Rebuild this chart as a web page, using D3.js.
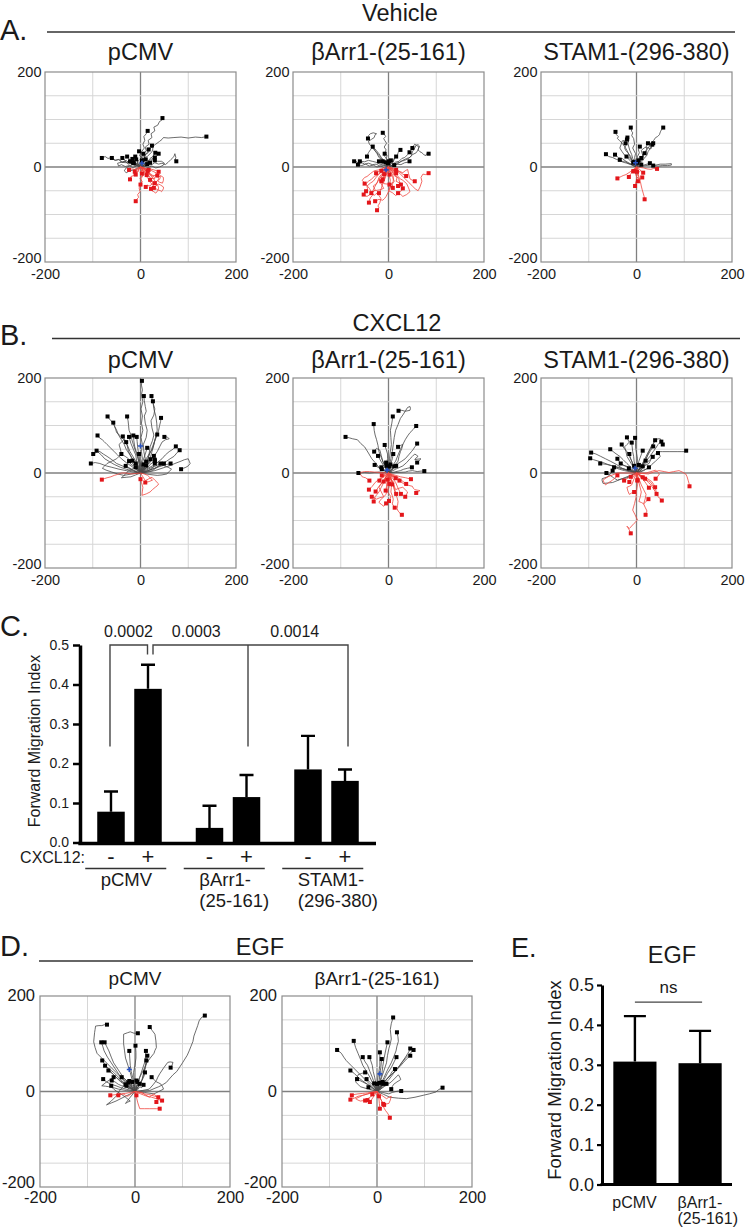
<!DOCTYPE html>
<html><head><meta charset="utf-8">
<script src="https://cdn.jsdelivr.net/npm/d3@7"></script>
<style>
body{margin:0;background:#fff;}
text{font-family:"Liberation Sans",Arial,Helvetica,sans-serif;fill:#1a1a1a;}
</style>
</head><body>
<script>
// ---------------- DATA ----------------
const axisTicks = [-200, 0, 200];
const gridX = [-100, 0, 100];
const gridY = [-150, -100, -50, 0, 50, 100, 150];

// Trajectories (x,y in µm), each string is one cell track
const tracksA1 = [
"0,0 5,6 3,14 8,20 5,27 12,34 10,42 18,48 16,56 24,62 22,70 30,76 28,84 36,88 40,96 44,98 46,103",
"0,0 6,8 10,16 8,24 16,30 20,38 26,44 32,48 40,54 45,58 48,62 58,61 70,62 85,63 100,61 115,63 128,62 138,64",
"0,0 2,8 -1,16 4,24 2,32 8,40 5,48 9,56 7,64 12,70 15,76",
"0,0 -6,4 -12,2 -18,8 -26,6 -32,12 -40,10 -46,16 -54,14 -60,20 -68,18 -74,22 -81,19",
"0,0 -5,6 -10,4 -16,10 -24,8 -30,14 -38,10 -44,16 -52,14 -60,19",
"0,0 -6,3 -10,8 -16,6 -22,12 -30,10 -34,16 -38,19",
"0,0 -4,6 -10,8 -14,14 -20,12 -24,18 -28,22",
"0,0 8,2 15,6 22,4 30,9 38,6 45,8 52,5 58,10 64,16 70,22 72,28 74,20 72,14 75,12",
"0,0 -4,4 -8,2 -12,10 -17,17",
"0,0 3,6 0,12 4,18 -2,24 1,30 -3,33",
"0,0 4,6 2,12 8,18 10,26 14,30 17,37",
"0,0 6,4 10,10 16,12 20,18 26,22 31,30",
"0,0 8,4 14,10 20,10 26,16 32,20 36,26 38,28",
"0,0 -3,5 -7,8 -5,14 -11,22",
"0,0 3,4 1,10 5,16 3,22 6,28",
"0,0 6,2 10,8 16,10 22,16 26,18 30,20",
"0,0 -6,-3 -14,-6 -22,-8 -30,-12 -34,-8 -30,-2 -24,2 -18,4 -14,8",
"0,0 8,2 16,-1 24,2 32,-2 40,0 48,4 50,8 44,12 36,12 30,14",
"0,0 -8,2 -16,-1 -24,3 -32,1 -40,5 -46,2 -48,8 -40,10 -30,9 -22,12",
"0,0 4,8 2,14 8,20 14,22 20,28 24,32 26,38 24,45",
"0,0 4,3 2,8 7,10 5,15 11,16",
"0,0 -3,4 -1,9 -7,8 -5,14 -9,16",
"0,0 5,-2 9,2 13,5 18,4 20,9",
"0,0 -5,2 -8,6 -13,4 -16,9",
"0,0 2,5 7,3 10,8 14,6",
"0,0 -2,4 2,7 -1,11 3,14",
"0,0 3,-6 0,-12 4,-18 -1,-24 3,-30 1,-38 -3,-44 -1,-52 -6,-58 -4,-64 -8,-68 -10,-72",
"0,0 -4,-4 -6,-10 -12,-12 -14,-18 -20,-20 -22,-26",
"0,0 4,-6 2,-12 5,-18 1,-25 3,-31 0,-37",
"0,0 6,-6 10,-12 16,-16 20,-22 24,-28 26,-34 22,-38 18,-40 14,-38 11,-42",
"0,0 8,-4 12,-10 18,-12 22,-18 28,-20 30,-25 24,-24 20,-27",
"0,0 8,-2 14,-6 20,-4 28,-6 34,-8 38,-10",
"0,0 4,-4 6,-10 10,-12 13,-17",
"0,0 10,-8 16,-14 22,-18 28,-26 32,-32 36,-38 38,-44 36,-50 32,-55 28,-52 24,-50 22,-46",
"0,0 12,-4 20,-6 28,-10 36,-14 42,-18 48,-22 48,-28 46,-34 40,-32 36,-30 38,-24 35,-18",
"0,0 -6,-2 -12,-5 -18,-4 -24,-6",
"0,0 5,-1 9,-4 13,-3 17,-6",
"0,0 6,-10 10,-18 16,-24 20,-32 26,-38 30,-44 36,-48 42,-50 44,-52 48,-46 48,-42 42,-38 38,-36 32,-40 28,-44",
"0,0 -3,-5 -5,-10 -8,-12 -10,-16",
"0,0 8,-4 14,-10 20,-14 26,-18 32,-18 38,-20 42,-20 40,-26 36,-28 30,-34",
"0,0 -2,-4 2,-7 -1,-11 3,-14",
"0,0 4,-3 8,-2 10,-7 15,-9",
"0,0 -4,-2 -6,-6 -10,-5 -12,-10"
];
const tracksA2 = [
"0,0 -3,6 -1,12 -5,18 -3,24 -8,30 -5,36 -9,42 -4,50 -8,56 -10,60 -6,64 -8,68 -12,72",
"0,0 -5,6 -10,12 -14,18 -20,24 -24,30 -30,36 -34,42 -40,48 -42,54 -36,58 -30,62 -28,68 -25,70 -32,72 -38,70 -42,66 -43,60",
"0,0 -6,6 -10,10 -14,16 -20,20 -24,28 -28,34 -33,43",
"0,0 -2,6 -6,10 -4,18 -8,22 -8,28",
"0,0 5,6 10,10 12,18 18,22 20,30 25,36",
"0,0 8,4 14,10 22,12 28,18 34,20 40,26 44,31",
"0,0 10,4 18,6 26,12 34,14 42,18 48,24 50,32 55,40 58,46 62,47 65,44 63,40 62,36 66,32 70,30 74,26 78,24 80,28 84,28",
"0,0 10,2 18,6 26,5 34,9 40,10 44,12",
"0,0 -10,3 -18,2 -26,6 -34,5 -42,8 -50,6 -56,9 -62,7 -66,11 -72,12",
"0,0 -8,-2 -16,2 -24,0 -32,4 -40,2 -48,6 -56,3 -64,5",
"0,0 -10,4 -18,6 -26,10 -34,12 -42,14 -50,11 -60,12",
"0,0 -5,2 -8,6 -14,8 -20,12",
"0,0 2,4 -2,6 -1,8",
"0,0 4,5 6,10 10,12 12,18 16,22",
"0,0 -3,4 -6,5 -8,10 -12,12",
"0,0 8,4 16,8 24,10 30,14 38,18 45,20 50,26 58,30 62,36 64,42 58,46 55,48 52,44 50,40",
"0,0 -6,8 -10,14 -15,20 -20,28 -25,34 -28,38 -35,40 -38,36 -42,30 -44,26 -45,22",
"0,0 4,3 2,8 7,10 5,14",
"0,0 -4,3 -2,8 -6,10",
"0,0 5,2 9,6 12,4",
"0,0 -2,5 3,8 1,12",
"0,0 6,-4 12,-8 20,-10 26,-16 35,-25 42,-32 50,-40 56,-46 62,-50 66,-42 70,-30 68,-22 72,-15 78,-16 84,-13",
"0,0 -6,-4 -10,-8 -15,-10 -22,-16 -30,-20 -36,-26 -42,-30 -46,-34 -50,-35",
"0,0 -4,-8 -10,-12 -14,-20 -20,-26 -25,-35 -30,-44 -35,-55 -34,-60 -38,-65 -40,-70 -41,-75",
"0,0 -2,-10 -5,-18 -8,-26 -12,-34 -15,-45 -18,-52 -20,-60 -16,-66 -18,-75 -22,-82 -20,-86 -24,-91",
"0,0 2,-8 5,-15 9,-22 12,-30 8,-36 9,-44",
"0,0 -8,-6 -14,-10 -20,-15 -26,-22 -32,-30 -38,-34 -45,-40 -44,-46 -47,-51",
"0,0 -3,-6 -8,-10 -10,-18 -15,-30",
"0,0 2,-8 5,-14 2,-20 4,-28 2,-37",
"0,0 6,-8 12,-14 16,-20 22,-24 22,-28 26,-37",
"0,0 4,-3 10,-8 12,-10 16,-13",
"0,0 -6,-2 -12,-6 -18,-8 -26,-13",
"0,0 -2,-6 -6,-10 -8,-18 -12,-26",
"0,0 8,-2 14,-6 20,-8 26,-12 30,-15 37,-19",
"0,0 -10,-2 -20,-6 -30,-8 -38,-14 -45,-20 -50,-22 -55,-28 -48,-36 -40,-45 -36,-52 -30,-60 -26,-56 -20,-55",
"0,0 5,-10 10,-20 10,-30 4,-40 0,-50 8,-54 15,-60 20,-56 25,-52 28,-48 30,-45",
"0,0 -4,-14 -10,-24 -10,-35 -2,-36 5,-40 2,-48 -5,-62 -8,-66 -12,-70 -20,-68 -28,-72",
"0,0 8,-8 16,-16 25,-25 30,-28 38,-35 42,-44 45,-52 38,-58 30,-62 26,-58 20,-55",
"0,0 -8,-10 -14,-18 -20,-25 -16,-34 -10,-45 -18,-48 -30,-50 -36,-56 -45,-62 -50,-60 -52,-58",
"0,0 10,-4 20,-8 30,-12 35,-8 40,-5 42,-14 45,-25 50,-28 55,-30",
"0,0 3,-4 -1,-8 4,-11 2,-16",
"0,0 -4,-3 -8,-2 -10,-7 -15,-8",
"0,0 5,-4 8,-2 11,-8 16,-6",
"0,0 -2,-5 -6,-8 -4,-13 -9,-15",
"0,0 8,-10 12,-18 18,-22 16,-30 24,-34 20,-40",
"0,0 -12,-12 -20,-22 -24,-34 -32,-40 -28,-48 -36,-55"
];
const tracksA3 = [
"0,0 -4,6 -10,15 -14,22 -20,35 -24,42 -30,50 -36,56 -40,60 -38,64 -42,68 -44,74",
"0,0 -2,8 -4,20 -2,28 -8,40 -4,48 -6,60 -10,66 -8,72 -10,75 -12,83",
"0,0 4,8 10,20 14,26 20,35 26,42 30,50 36,56 40,62 44,64 48,68 50,74 52,78 56,83",
"0,0 -3,8 -8,18 -10,26 -14,35 -16,42 -18,50 -16,56 -19,62",
"0,0 -5,8 -10,15 -12,22 -18,30 -22,34 -25,40 -22,46 -23,50",
"0,0 2,8 4,15 2,22 6,30 4,36 7,43",
"0,0 5,8 10,15 12,22 18,30 22,36 20,42 24,50",
"0,0 6,6 12,12 16,18 22,25 24,32 28,38 30,42 33,47",
"0,0 -10,4 -20,8 -28,10 -35,14 -42,16 -50,20 -58,22 -64,27",
"0,0 -8,4 -15,8 -22,12 -30,18 -38,20 -45,26",
"0,0 -6,2 -12,6 -18,8 -25,12 -30,12 -35,15",
"0,0 -4,4 -10,10 -14,14 -21,22",
"0,0 4,6 8,15 12,20 17,29",
"0,0 8,2 15,4 22,6 28,8",
"0,0 10,2 20,3 30,5 40,4 50,6 60,6 73,7 73,4 65,3 55,3 45,2 35,3",
"0,0 2,5 5,10 8,14 10,19",
"0,0 6,8 15,20 12,28 10,35 16,40 20,42 25,40 30,38 33,44 35,50",
"0,0 -6,8 -15,20 -20,22 -25,25 -30,32 -35,40 -32,48 -30,55 -25,56 -20,58",
"0,0 3,4 1,8 6,10 4,14",
"0,0 -3,3 -2,8 -7,9",
"0,0 4,2 6,6 10,5",
"0,0 -2,4 -6,6 -5,11",
"0,0 2,3 -2,5 1,9",
"0,0 -5,-4 -10,-8 -16,-12 -22,-16 -28,-18 -32,-20 -36,-22 -40,-24",
"0,0 -4,-4 -8,-10 -12,-14 -16,-21",
"0,0 -1,-6 -2,-15 1,-22 0,-28 -2,-34 -3,-40",
"0,0 2,-10 5,-20 8,-30 10,-40 12,-48 14,-55 16,-62 17,-68",
"0,0 1,-6 2,-12 4,-20 3,-30",
"0,0 8,-1 15,-2 22,-4 30,-5 36,-3 43,-4",
"0,0 4,-3 8,-6 10,-10 14,-12",
"0,0 -2,-3 -4,-5 -7,-9",
"0,0 3,-5 6,-10 2,-15 0,-20 4,-24 8,-26 12,-22",
"0,0 2,-4 -2,-6 1,-10",
"0,0 -3,-3 -1,-7 -5,-9"
];
const tracksB1 = [
"0,0 3,10 1,20 4,30 2,45 4,60 1,75 5,90 2,105 4,120 1,135 5,150 2,165 4,175 2,185 3,194",
"0,0 4,10 10,30 7,45 6,60 12,75 14,90 10,105 8,120 12,130 10,140 8,152 7,162",
"0,0 6,10 15,25 18,40 20,55 25,68 28,80 24,95 22,110 28,122 30,135 26,148 23,162",
"0,0 8,12 20,30 24,45 28,60 32,75 35,90 34,105 32,120 28,135 26,151",
"0,0 -4,10 -10,20 -18,32 -25,45 -28,58 -35,70 -42,78 -50,85 -52,92 -55,100 -58,106 -62,110 -66,115 -69,119",
"0,0 -6,12 -15,25 -22,38 -30,50 -34,60 -40,70 -46,80 -50,90 -54,98 -57,106",
"0,0 -2,15 -5,30 -10,45 -15,60 -18,70 -20,80 -24,90 -25,100 -26,110 -28,119",
"0,0 6,15 15,30 20,42 25,55 30,68 35,80 38,90 40,100 42,108 43,116",
"0,0 -10,8 -20,15 -30,22 -40,30 -48,38 -55,45 -62,52 -70,60 -76,66 -80,70 -86,74 -90,79",
"0,0 -4,12 -10,25 -16,35 -22,45 -26,55 -30,65 -34,72 -37,77",
"0,0 -4,12 -8,25 -10,38 -15,50 -20,62 -24,76",
"0,0 -2,15 -5,30 -8,42 -12,55 -14,68 -15,79",
"0,0 1,12 -2,25 -4,40 -6,55 -7,66 -8,76",
"0,0 5,15 12,30 18,40 25,50 28,60 30,70 32,76 35,81",
"0,0 10,12 20,25 28,35 35,45 40,55 45,65 52,70 60,72 56,76 50,76",
"0,0 -12,5 -25,10 -38,15 -50,20 -60,28 -70,35 -78,40 -85,45 -92,47",
"0,0 -15,4 -30,8 -42,12 -55,18 -65,24 -75,30 -82,38 -90,45 -95,42 -99,40",
"0,0 -15,2 -30,5 -45,8 -60,12 -72,15 -85,20 -95,22 -104,20",
"0,0 12,8 25,15 35,22 45,30 52,38 60,45 68,50 74,56",
"0,0 15,5 30,10 42,18 55,25 62,30 70,35 76,42 82,48",
"0,0 15,2 30,5 45,10 60,15 72,20 85,25 92,28 100,30 102,25 104,20 100,15 95,12 90,10 85,8",
"0,0 12,4 25,8 35,12 45,15 55,18 63,20",
"0,0 10,5 20,10 30,14 42,20",
"0,0 12,2 25,5 32,10 40,15 45,18 49,20",
"0,0 5,8 10,15 16,22 21,29",
"0,0 -2,10 -1,20 -3,30 -3,40",
"0,0 2,12 5,25 10,40 14,53",
"0,0 -4,6 -8,12 -12,20 -17,26",
"0,0 -8,2 -15,5 -22,10 -31,15",
"0,0 -18,-2 -35,-5 -48,-2 -60,2 -72,6 -80,10 -75,15 -70,20 -60,25 -50,30 -45,35 -40,40",
"0,0 4,3 8,6 10,9 12,12 9,15 6,18",
"0,0 8,2 15,4 20,7 25,10 28,15 30,20",
"0,0 -10,-4 -20,-8 -30,-9 -40,-10 -32,-3 -25,5 -18,8 -10,12",
"0,0 18,-3 35,-5 45,-4 55,-2 60,3 65,8 58,12 50,15 45,18 40,20 35,22 30,25",
"0,0 -12,15 -25,30 -32,35 -40,40 -42,50 -45,60 -40,65 -35,70 -32,68 -30,65",
"0,0 4,5 2,10 8,14 6,20 12,24",
"0,0 -3,6 -7,10 -5,16 -10,20",
"0,0 6,4 10,10 16,12 20,18 26,22 30,28",
"0,0 5,8 12,10 15,18 20,22 24,32 28,36",
"0,0 -5,5 -10,8 -14,15 -20,18 -24,25",
"0,0 3,4 8,8 6,14 12,16",
"0,0 -10,-1 -20,-2 -30,0 -40,0 -48,-3 -55,-5 -62,-8 -70,-10 -76,-12 -81,-14",
"0,0 5,-8 10,-16 18,-12 24,-9 30,-15 38,-23 35,-27 31,-30 25,-35 20,-40 12,-44 3,-47 4,-38 5,-30 2,-20 0,-13",
"0,0 8,-2 15,-5 20,-10 25,-15 18,-18 10,-20"
];
const tracksB2 = [
"0,0 2,15 5,30 8,45 10,60 12,75 15,90 20,102 25,115 30,122 35,130 40,138 45,140 46,136 45,132 35,130 28,132 21,131",
"0,0 1,15 2,30 4,45 6,60 5,75 4,90 7,105 9,119",
"0,0 -4,10 -10,20 -15,32 -20,45 -22,58 -25,70 -28,80 -30,90 -31,103",
"0,0 6,12 15,25 20,38 25,50 30,60 35,70 40,78 45,85 52,92 58,99",
"0,0 -10,6 -20,12 -28,22 -35,30 -42,42 -50,55 -58,62 -65,70 -75,72 -82,74 -90,76",
"0,0 10,10 20,20 28,25 35,30 42,38 48,45 52,50 55,55 58,58 60,62",
"0,0 -2,10 -4,20 -2,30 -2,40 -5,50 -8,59",
"0,0 -5,8 -10,15 -16,25 -22,36",
"0,0 2,10 5,20 8,30 10,40",
"0,0 12,2 25,5 32,8 40,10 49,12",
"0,0 -10,1 -20,2 -30,1 -40,0 -50,1 -63,0",
"0,0 -8,4 -15,8 -22,12 -29,17",
"0,0 -2,6 -3,12 -4,17 -5,22",
"0,0 4,4 8,8 12,12 16,15",
"0,0 -4,3 -8,6 -12,9 -15,12",
"0,0 15,8 30,15 38,22 45,30 50,35 55,40 58,38 62,35 58,32 55,28 60,29 68,30 64,26 60,22",
"0,0 10,12 20,25 22,35 25,45 28,52 30,60 25,58 20,55",
"0,0 15,1 35,2 42,4 50,5 55,4 60,3 68,4 75,4",
"0,0 -6,12 -12,25 -15,36 -18,48 -22,50 -25,52 -28,48 -30,45",
"0,0 3,5 1,10 6,12 4,18",
"0,0 -3,4 -1,9 -6,10 -4,15",
"0,0 5,3 9,7 7,12 12,14",
"0,0 -4,2 -8,6 -10,4 -14,8",
"0,0 2,4 -1,7 3,10 1,14",
"0,0 -8,-5 -15,-10 -22,-15 -28,-20 -34,-28 -41,-35",
"0,0 -5,-10 -10,-20 -15,-30 -20,-40 -24,-45 -28,-50 -30,-55 -31,-60",
"0,0 -6,-9 -12,-18 -20,-28 -27,-39",
"0,0 -2,-9 -3,-18 -4,-28 -6,-37",
"0,0 2,-10 4,-20 1,-30 -2,-40 2,-45 5,-50 3,-55 1,-59",
"0,0 4,-10 8,-20 6,-30 5,-40 8,-48 10,-55 9,-60 8,-65 11,-70 13,-73",
"0,0 5,-12 10,-25 12,-35 15,-45 18,-52 20,-60 19,-68 18,-75 20,-80 22,-82 25,-86 28,-88",
"0,0 4,-10 8,-20 12,-32 16,-44",
"0,0 8,-10 15,-20 20,-32 26,-44",
"0,0 12,-4 25,-8 36,-10 47,-13",
"0,0 10,-5 20,-10 28,-16 37,-23",
"0,0 1,-6 2,-12 1,-18 2,-23",
"0,0 -5,-4 -10,-8 -15,-12 -19,-16",
"0,0 6,-4 12,-8 18,-12 23,-16",
"0,0 -15,1 -30,2 -40,3 -50,3 -55,2 -60,1 -58,-4 -55,-8 -52,-9 -48,-10 -44,-13 -40,-16",
"0,0 10,-8 20,-15 28,-20 35,-25 42,-26 50,-28 52,-32 55,-35 60,-36 66,-37 62,-40 58,-42",
"0,0 -10,-15 -20,-30 -15,-40 -10,-50 -18,-52 -25,-55 -30,-52 -35,-50",
"0,0 -2,-20 -5,-45 -10,-50 -15,-55 -18,-58 -20,-62 -15,-66 -10,-70 -8,-67 -5,-64",
"0,0 8,-18 15,-35 22,-32 30,-30 35,-35 40,-40 38,-45 35,-50",
"0,0 3,-4 -1,-7 2,-11 -2,-14",
"0,0 -4,-3 -7,-1 -10,-6 -14,-5",
"0,0 5,-3 8,-8 12,-6 15,-11",
"0,0 -2,-6 -7,-9 -5,-14 -10,-18",
"0,0 6,-8 4,-14 10,-18 8,-24"
];
const tracksB3 = [
"0,0 -15,5 -30,10 -42,18 -55,25 -65,30 -75,35 -85,40 -95,43",
"0,0 -18,5 -35,10 -48,14 -60,18 -70,22 -80,25 -90,28 -97,31",
"0,0 -12,4 -25,8 -38,12 -50,15 -62,18 -76,20",
"0,0 -10,-5 -20,-10 -30,-12 -40,-15 -48,-10 -55,-5 -60,-2 -63,0",
"0,0 -10,10 -20,20 -28,28 -35,35 -45,42 -55,50",
"0,0 -5,12 -10,25 -15,35 -20,45 -26,52 -31,60",
"0,0 -2,12 -5,25 -6,35 -8,45 -9,55 -10,64",
"0,0 1,15 2,30 0,42 -2,55 -2,65 -3,74",
"0,0 8,12 15,25 20,35 25,45 30,52 35,60 37,65 39,69",
"0,0 10,12 20,25 28,35 35,45 40,52 45,60 48,63 52,66",
"0,0 10,10 20,20 28,28 35,35 40,40 45,45 55,45 70,45 85,45 95,45 104,45 104,47",
"0,0 8,10 15,20 20,30 25,40 30,48 35,56",
"0,0 2,12 5,25 9,36 13,47",
"0,0 -8,5 -15,10 -24,15 -33,20",
"0,0 -12,2 -25,5 -36,8 -47,12",
"0,0 8,2 15,5 20,8 26,12",
"0,0 5,8 10,15 15,20 19,26",
"0,0 -4,10 -8,20 -12,30 -15,40",
"0,0 -15,-6 -30,-12 -40,-16 -50,-20 -60,-21 -70,-22 -72,-16 -72,-12 -66,-10 -60,-8 -55,-2 -50,5",
"0,0 -20,0 -40,0 -50,-4 -60,-8 -66,-12 -70,-15 -68,-20 -65,-25 -58,-20 -50,-15 -45,-10 -40,-5",
"0,0 10,15 20,30 25,42 30,55 35,62 40,70 45,72 50,72 52,66 55,60",
"0,0 -10,18 -20,35 -22,45 -25,55 -20,60 -15,65 -18,70 -20,75",
"0,0 12,5 25,10 32,18 40,25 45,30 50,35 48,38 45,42",
"0,0 4,5 2,10 7,12 5,17",
"0,0 -4,4 -2,9 -7,10 -5,15",
"0,0 6,3 10,7 8,12 13,14",
"0,0 -5,3 -9,7 -12,5 -16,10",
"0,0 -12,6 -20,14 -28,16 -36,24 -40,30",
"0,0 12,8 18,16 26,20 30,28 34,34",
"0,0 12,-1 25,-2 36,2 47,5 58,3 68,1 78,3 89,5 96,2 103,-2 106,-8 108,-15 110,-22 111,-28",
"0,0 1,-12 2,-25 0,-38 -1,-51 -4,-64 -8,-78 -3,-88 2,-99 -5,-106 -15,-117 -18,-114 -20,-112 -15,-120 -12,-127",
"0,0 5,-12 10,-25 15,-35 20,-45 18,-55 15,-65 18,-72 22,-80 20,-84 19,-88",
"0,0 10,-8 20,-15 25,-20 30,-25 36,-34 42,-44",
"0,0 10,-5 20,-10 26,-14 32,-18 36,-24 39,-30",
"0,0 8,-8 15,-15 20,-22 26,-31",
"0,0 -4,-5 -8,-10 -12,-14 -15,-19",
"0,0 1,-4 0,-8 2,-12 2,-16",
"0,0 -7,-4 -14,-8 -20,-12 -26,-16",
"0,0 4,-2 7,-4 10,-7 13,-9",
"0,0 15,-10 30,-20 35,-28 40,-35 42,-42 45,-50 50,-54 53,-58",
"0,0 10,0 20,0 30,3 40,6 44,2 48,-2 44,-8 40,-12",
"0,0 -5,-12 -10,-25 -15,-28 -20,-30 -18,-38 -15,-45 -10,-42 -5,-40",
"0,0 5,-20 10,-40 8,-50 5,-60 10,-62 15,-65 20,-60 25,-55",
"0,0 3,-4 -1,-8 4,-10 2,-15",
"0,0 -3,-3 -6,-2 -8,-7 -12,-8",
"0,0 6,-4 9,-9 14,-8 18,-12"
];
const tracksD1 = [
"0,0 15,1 31,2 40,6 50,10 58,14 66,19 72,26 80,35 88,42 94,51 100,60 105,68 110,76 114,85 118,95 122,105 124,116 128,127 132,138 135,148 140,155 147,159",
"0,0 -10,10 -20,20 -30,30 -40,40 -50,50 -60,60 -70,70 -80,80 -84,92 -87,104 -86,114 -85,124 -84,130 -83,137 -76,138 -70,138 -64,140 -59,140",
"0,0 5,15 10,30 18,45 25,60 32,70 40,80 42,86 45,92 44,106 42,120 36,128 31,135",
"0,0 -5,20 -10,40 -15,55 -20,70 -22,85 -24,100 -24,110 -24,120 -16,123 -10,125 -2,122 6,122",
"0,0 -15,15 -30,30 -40,45 -50,60 -58,72 -65,85 -68,95 -71,103",
"0,0 -12,15 -25,30 -35,45 -45,60 -50,72 -55,85 -60,95 -64,103",
"0,0 -2,15 -5,30 -8,42 -10,55 -11,70 -12,85",
"0,0 -2,20 -3,40 0,55 2,70 2,82 1,96",
"0,0 5,15 10,30 15,45 20,60 22,72 23,85",
"0,0 8,12 15,25 18,38 22,50 24,62 26,75",
"0,0 -15,10 -30,20 -40,30 -50,40 -60,52 -69,65",
"0,0 -12,10 -25,20 -35,30 -45,40 -55,48 -63,54",
"0,0 -10,8 -20,15 -30,22 -40,30 -48,38 -56,44",
"0,0 -15,4 -30,8 -40,12 -50,15 -60,20 -67,26",
"0,0 -10,5 -20,10 -28,12 -35,15 -42,20 -49,23",
"0,0 -5,8 -10,15 -15,20 -20,25 -24,28 -28,30",
"0,0 5,8 10,15 14,22 18,30 20,35 21,40",
"0,0 8,12 15,25 18,35 20,45 22,55 24,65",
"0,0 -4,5 -7,10 -10,14 -14,19",
"0,0 1,6 2,12 2,18 3,23",
"0,0 3,4 6,8 8,12 10,16",
"0,0 15,2 30,5 38,14 45,23 48,30 52,37 60,49 69,61 74,62 80,61 78,55 75,50",
"0,0 -20,-10 -40,-20 -50,-24 -60,-28 -50,-20 -40,-10 -35,-2 -30,5 -25,10 -20,15",
"0,0 -10,-12 -20,-25 -15,-22 -10,-20 -20,-12 -30,-5 -38,0 -45,5 -48,8 -50,12",
"0,0 20,-2 40,-5 50,0 60,5 58,10 55,15 50,18 45,20 40,25 35,30",
"0,0 -18,2 -35,5 -45,8 -55,10 -62,11 -70,12 -65,16 -60,20 -52,25 -45,30",
"0,0 4,5 2,10 7,14 5,20",
"0,0 -4,6 -2,12 -8,14 -6,20",
"0,0 -6,4 -10,8 -14,6 -18,12",
"0,0 6,4 10,10 14,8 18,14",
"0,0 -3,8 -8,12 -6,18 -12,22",
"0,0 10,-2 20,-5 28,-6 35,-8 42,-10 49,-12",
"0,0 12,-5 25,-10 35,-12 45,-15 50,-17 57,-19",
"0,0 2,-6 3,-12 6,-24 10,-36 20,-36 30,-36 38,-36 45,-36 52,-36",
"0,0 -10,-2 -20,-4 -28,-5 -35,-6 -44,-7 -52,-8",
"0,0 1,-2 2,-4 2,-6 3,-8",
"0,0 8,-1 15,-2 22,-7 30,-12 35,-8 40,-5 45,-10 50,-15 48,-18 45,-22",
"0,0 -8,-5 -15,-10 -20,-8 -25,-5 -30,-6 -35,-8"
];
const tracksD2 = [
"0,0 5,15 10,30 15,45 20,60 22,75 25,90 28,100 30,110 29,120 28,130 30,142 34,155",
"0,0 8,15 15,30 22,45 30,60 35,72 40,85 42,95 45,105 44,115 42,124",
"0,0 -8,15 -15,30 -22,42 -30,55 -35,68 -40,80 -45,92 -49,106",
"0,0 -12,12 -25,25 -35,35 -45,45 -55,55 -65,65 -70,72 -75,80 -80,84 -84,87",
"0,0 10,12 20,25 30,35 40,45 48,55 55,65 60,72 65,80 68,85 70,90",
"0,0 12,12 25,25 35,38 45,50 52,60 60,70 68,78 77,87",
"0,0 10,12 20,25 30,35 40,45 48,52 55,60 62,68 70,75",
"0,0 5,18 10,35 12,52 15,70 18,85 22,103",
"0,0 1,15 2,30 4,42 6,55 6,68 6,82",
"0,0 -5,15 -10,30 -15,42 -20,55 -25,62 -30,72",
"0,0 -2,15 -5,30 -8,42 -10,55 -13,64 -16,72",
"0,0 2,12 5,25 6,38 8,50 9,60 10,68",
"0,0 8,12 15,25 22,38 30,50 36,62 41,72",
"0,0 -10,8 -20,15 -30,22 -40,30 -48,38 -56,44",
"0,0 8,10 15,20 22,28 28,35 32,42 38,47",
"0,0 14,-6 27,-12 45,-14 62,-15 80,-12 97,-8 110,-5 124,-1 130,4 138,8",
"0,0 12,-2 25,-5 32,-2 40,0 45,1 51,1",
"0,0 -5,8 -10,15 -16,20 -22,26",
"0,0 -1,4 -2,8 -1,12 0,16",
"0,0 5,4 10,8 15,12 20,16",
"0,0 -10,8 -20,15 -30,20 -42,26",
"0,0 15,10 30,20 38,28 45,35 48,30 50,25 42,20 35,15 32,10 30,5",
"0,0 -18,5 -35,10 -40,15 -45,20 -42,28 -40,35 -32,38 -25,40",
"0,0 4,5 2,10 7,12 5,18",
"0,0 -4,4 -2,9 -7,12 -6,17",
"0,0 6,3 10,8 8,13 13,16",
"0,0 -6,2 -10,6 -14,4 -18,9",
"0,0 3,8 8,10 6,16 12,20",
"0,0 -10,-2 -20,-5 -30,-8 -40,-10 -48,-14 -56,-17",
"0,0 -10,-1 -20,-3 -30,-4 -40,-5 -46,-6 -53,-8",
"0,0 5,-10 10,-20 12,-28 15,-35 18,-40 22,-45 25,-50 27,-55",
"0,0 2,-8 4,-15 5,-25 6,-36",
"0,0 -4,-6 -8,-12 -12,-18 -15,-22",
"0,0 -6,-5 -12,-10 -18,-14 -25,-19",
"0,0 4,-8 7,-15 10,-20 13,-26",
"0,0 -15,-4 -30,-8 -38,-12 -45,-15 -40,-18 -35,-20 -28,-19 -20,-18",
"0,0 10,-8 20,-15 25,-12 30,-10 28,-18 25,-25 20,-26 15,-28",
"0,0 3,-4 -1,-7 4,-10",
"0,0 -4,-3 -8,-2 -10,-6"
];
// center-of-mass markers
const centersA = [[3,8],[-5,-6],[-2,9]];
const centersB = [[0,57],[-3,6],[-3,10]];
const centersD = [[-12,46],[6,37]];

const titlesA = ["pCMV","βArr1-(25-161)","STAM1-(296-380)"];
const titlesD = ["pCMV","βArr1-(25-161)"];

// Panel C
const cGroups = ["pCMV","βArr1-(25-161)","STAM1-(296-380)"];
const cGroupLines = [["pCMV"],["βArr1-","(25-161)"],["STAM1-","(296-380)"]];
const cCond = ["-","+"];
const cMeans = [0.078, 0.389, 0.037, 0.115, 0.185, 0.156];
const cSem   = [0.051, 0.061, 0.056, 0.056, 0.085, 0.029];
const cTicks = [0,0.1,0.2,0.3,0.4,0.5];
const cPvals = ["0.0002","0.0003","0.0014"];

// Panel E
const eGroups = ["pCMV","βArr1-(25-161)"];
const eGroupLines = [["pCMV"],["βArr1-","(25-161)"]];
const eMeans = [0.308, 0.304];
const eSem = [0.114, 0.081];
const eTicks = [0,0.1,0.2,0.3,0.4,0.5];

// ---------------- DRAW ----------------
const svg = d3.select("body").append("svg").attr("width",745).attr("height",1231);
const parse = s => s.split(" ").map(p => p.split(",").map(Number));
const FONT = '"Liberation Sans",Arial,Helvetica,sans-serif';

function txt(x,y,s,size,anchor){
  return svg.append("text").attr("x",x).attr("y",y).attr("font-size",size)
    .attr("text-anchor",anchor||"start").text(s);
}
function hline(x1,x2,y,w,c){
  svg.append("line").attr("x1",x1).attr("x2",x2).attr("y1",y).attr("y2",y)
    .attr("stroke",c||"#333").attr("stroke-width",w||1.5);
}

function trajPlot(o){
  const x = d3.scaleLinear().domain([-200,200]).range([o.left,o.left+o.w]);
  const y = d3.scaleLinear().domain([-200,200]).range([o.top+o.h,o.top]);
  const g = svg.append("g");
  g.selectAll("line.gv").data(gridX).join("line").attr("class","gv")
    .attr("x1",d=>x(d)).attr("x2",d=>x(d)).attr("y1",o.top).attr("y2",o.top+o.h)
    .attr("stroke",d=>d===0?"#808080":"#d6d6d6").attr("stroke-width",d=>d===0?1.3:1);
  g.selectAll("line.gh").data(gridY).join("line").attr("class","gh")
    .attr("y1",d=>y(d)).attr("y2",d=>y(d)).attr("x1",o.left).attr("x2",o.left+o.w)
    .attr("stroke",d=>d===0?"#808080":"#d6d6d6").attr("stroke-width",d=>d===0?1.3:1);
  g.append("rect").attr("x",o.left).attr("y",o.top).attr("width",o.w).attr("height",o.h)
    .attr("fill","none").attr("stroke","#8c8c8c").attr("stroke-width",1.2);
  const tr = o.tracks.map(parse);
  const isRed = d => d[d.length-1][1] < 0;
  const line = d3.line().x(d=>x(d[0])).y(d=>y(d[1]));
  const sorted = tr.slice().sort((a,b)=>isRed(a)-isRed(b));
  g.selectAll("path.t").data(sorted).join("path").attr("class","t")
    .attr("d",line).attr("fill","none")
    .attr("stroke",d=>isRed(d)?"#f0463f":"#474747").attr("stroke-width",0.8);
  g.selectAll("rect.e").data(sorted).join("rect").attr("class","e")
    .attr("x",d=>x(d[d.length-1][0])-2).attr("y",d=>y(d[d.length-1][1])-2)
    .attr("width",4).attr("height",4)
    .attr("fill",d=>isRed(d)?"#e3161b":"#000");
  g.append("path").attr("d",`M${x(o.center[0])-2.5},${y(o.center[1])}h5M${x(o.center[0])},${y(o.center[1])-2.5}v5`)
    .attr("stroke","#2a52be").attr("stroke-width",1.6);
  // axes labels
  const ab = g.append("g").attr("transform",`translate(0,${o.top+o.h})`)
    .call(d3.axisBottom(x).tickValues(axisTicks).tickSize(0).tickPadding(o.xpad).tickFormat(d=>String(d)));
  const al = g.append("g").attr("transform",`translate(${o.left},0)`)
    .call(d3.axisLeft(y).tickValues(axisTicks).tickSize(0).tickPadding(o.ypad).tickFormat(d=>String(d)));
  [ab,al].forEach(a=>{
    a.select(".domain").remove();
    a.attr("font-size",o.fs).attr("font-family",FONT);
    a.selectAll("text").attr("fill","#1a1a1a");
  });
  al.selectAll(".tick text").attr("dy",d=>d===-200?"0.02em":(d===200?"0.3em":"0.32em"));
  txt(o.left+o.w/2, o.titleY, o.title, o.tfs, "middle");
}

// Panel A
const colsAB = [45, 293, 541];
[tracksA1,tracksA2,tracksA3].forEach((t,i)=>trajPlot({left:colsAB[i],top:72,w:191,h:190,tracks:t,center:centersA[i],
  title:titlesA[i],titleY:60,tfs:23.5,fs:14.5,xpad:7,ypad:3.5}));
txt(0,40,"A.",29);
txt(400,21,"Vehicle",23.5,"middle");
hline(47,735,32);

// Panel B
[tracksB1,tracksB2,tracksB3].forEach((t,i)=>trajPlot({left:colsAB[i],top:378,w:191,h:190,tracks:t,center:centersB[i],
  title:titlesA[i],titleY:368,tfs:23.5,fs:14.5,xpad:7,ypad:3.5}));
txt(0,345,"B.",29);
txt(397,331,"CXCL12",23.5,"middle");
hline(52,740,338.5);

// Panel C
txt(0,636,"C.",29);
const yC = d3.scaleLinear().domain([0,0.5]).range([842.5,645]);
const xG = d3.scaleBand().domain(cGroups).range([80,376]).paddingInner(0.152).paddingOuter(0.0785);
const xI = d3.scaleBand().domain(cCond).range([0,xG.bandwidth()]).padding(0.257);
const cBars = [];
cGroups.forEach((g,gi)=>cCond.forEach((c,ci)=>{
  const k = gi*2+ci;
  cBars.push({g,c,k,x:xG(g)+xI(c),cx:xG(g)+xI(c)+xI.bandwidth()/2,m:cMeans[k],s:cSem[k]});
}));
svg.selectAll("rect.cb").data(cBars).join("rect").attr("class","cb")
  .attr("x",d=>d.x).attr("width",xI.bandwidth()).attr("y",d=>yC(d.m)).attr("height",d=>yC(0)-yC(d.m)+1)
  .attr("fill","#000");
svg.selectAll("path.ce").data(cBars).join("path").attr("class","ce")
  .attr("d",d=>`M${d.cx},${yC(d.m)}V${yC(d.m+d.s)}M${d.cx-7},${yC(d.m+d.s)}H${d.cx+7}`)
  .attr("stroke","#000").attr("stroke-width",2.4).attr("fill","none");
const ayC = svg.append("g").attr("transform","translate(80,0)")
  .call(d3.axisLeft(yC).tickValues(cTicks).tickFormat(d3.format(".1f")).tickSize(7).tickSizeOuter(0).tickPadding(4));
ayC.attr("font-size",14).attr("font-family",FONT);
ayC.select(".domain").attr("stroke-width",3.5);
ayC.selectAll(".tick line").attr("stroke-width",2.5);
ayC.selectAll("text").attr("fill","#1a1a1a");
svg.append("line").attr("x1",78.3).attr("x2",376).attr("y1",yC(0)+1).attr("y2",yC(0)+1)
  .attr("stroke","#000").attr("stroke-width",3.5);
svg.append("text").attr("transform",`translate(40,741) rotate(-90)`).attr("text-anchor","middle")
  .attr("font-size",16).text("Forward Migration Index");
// significance brackets
const bc = i => cBars[i].cx;
const bp = d3.path();
bp.moveTo(bc(0)-1, yC(0.243)); bp.lineTo(bc(0)-1, yC(0.5)); bp.lineTo(bc(1)-0.5, yC(0.5)); bp.lineTo(bc(1)-0.5, yC(0.476));
bp.moveTo(bc(1)+5, yC(0.476)); bp.lineTo(bc(1)+5, yC(0.5)); bp.lineTo(bc(5)+3, yC(0.5)); bp.lineTo(bc(5)+3, yC(0.243));
bp.moveTo(bc(3)+1.5, yC(0.5)); bp.lineTo(bc(3)+1.5, yC(0.243));
svg.append("path").attr("d",bp.toString()).attr("fill","none").attr("stroke","#444").attr("stroke-width",1.4);
[[0,1],[1,3],[3,5]].forEach((p,i)=>txt((bc(p[0])+bc(p[1]))/2-1, 637, cPvals[i], 16, "middle"));
// x labels
txt(85,863,"CXCL12:",16,"end");
svg.selectAll("text.pm").data(cBars).join("text").attr("class","pm")
  .attr("x",d=>d.cx).attr("y",864).attr("text-anchor","middle").attr("font-size",22).text(d=>d.c);
cGroups.forEach((g,gi)=>{
  svg.append("line").attr("x1",xG(g)-2.5).attr("x2",xG(g)+xG.bandwidth()-5).attr("y1",868.5).attr("y2",868.5)
    .attr("stroke","#333").attr("stroke-width",1.5);
  cGroupLines[gi].forEach((s,li)=>txt(xG(g)+13, 886+li*21, s, 18.5));
});

// Panel D
const colsD = [40, 282];
[tracksD1,tracksD2].forEach((t,i)=>trajPlot({left:colsD[i],top:996,w:190,h:191,tracks:t,center:centersD[i],
  title:titlesD[i],titleY:985,tfs:19,fs:16.5,xpad:4.5,ypad:5}));
txt(0,956,"D.",29);
txt(260,955,"EGF",23.5,"middle");
hline(39,473,961);

// Panel E
txt(511,957,"E.",27);
txt(672,963,"EGF",23.5,"middle");
const yE = d3.scaleLinear().domain([0,0.5]).range([1184.5,985]);
const xE = d3.scaleBand().domain(eGroups).range([602.5,732.5]).paddingInner(0.338).paddingOuter(0.166);
const eBars = eGroups.map((g,i)=>({g,x:xE(g),cx:xE(g)+xE.bandwidth()/2,m:eMeans[i],s:eSem[i]}));
svg.selectAll("rect.eb").data(eBars).join("rect").attr("class","eb")
  .attr("x",d=>d.x).attr("width",xE.bandwidth()).attr("y",d=>yE(d.m)).attr("height",d=>yE(0)-yE(d.m))
  .attr("fill","#000");
svg.selectAll("path.ee").data(eBars).join("path").attr("class","ee")
  .attr("d",d=>`M${d.cx},${yE(d.m)}V${yE(d.m+d.s)}M${d.cx-11},${yE(d.m+d.s)}H${d.cx+11}`)
  .attr("stroke","#000").attr("stroke-width",2.4).attr("fill","none");
const ayE = svg.append("g").attr("transform","translate(602,0)")
  .call(d3.axisLeft(yE).tickValues(eTicks).tickFormat(d3.format(".1f")).tickSize(5).tickSizeOuter(0).tickPadding(3));
ayE.attr("font-size",18).attr("font-family",FONT);
ayE.select(".domain").attr("stroke-width",3);
ayE.selectAll(".tick line").attr("stroke-width",2.2);
ayE.selectAll("text").attr("fill","#1a1a1a");
svg.append("line").attr("x1",600.5).attr("x2",732).attr("y1",yE(0)).attr("y2",yE(0))
  .attr("stroke","#000").attr("stroke-width",3);
svg.append("text").attr("transform",`translate(561,1080) rotate(-90)`).attr("text-anchor","middle")
  .attr("font-size",18.5).text("Forward Migration Index");
svg.append("line").attr("x1",eBars[0].cx).attr("x2",eBars[1].cx+2).attr("y1",yE(0.457)).attr("y2",yE(0.457))
  .attr("stroke","#444").attr("stroke-width",1.4);
txt((eBars[0].cx+eBars[1].cx)/2+1, 993, "ns", 17, "middle");
eGroups.forEach((g,gi)=>eGroupLines[gi].forEach((s,li)=>txt(xE(g)-1, 1207.5+li*16.5, s, 16)));
</script>
</body></html>
